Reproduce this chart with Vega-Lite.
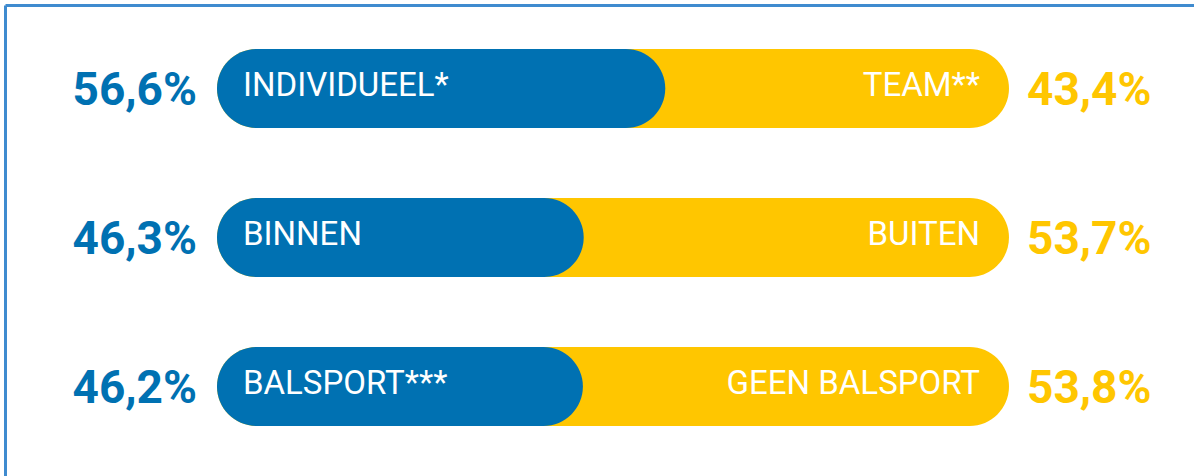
{
  "$schema": "https://vega.github.io/schema/vega-lite/v6.json",
  "width": 1194,
  "height": 476,
  "padding": 0,
  "autosize": {"type": "none"},
  "background": "white",
  "config": {"view": {"stroke": null}},
  "data": {"values": [
    {"row": 1, "left": "INDIVIDUEEL*", "right": "TEAM**", "lp": 56.6, "rp": 43.4, "lpl": "56,6%", "rpl": "43,4%", "total": 100},
    {"row": 2, "left": "BINNEN", "right": "BUITEN", "lp": 46.3, "rp": 53.7, "lpl": "46,3%", "rpl": "53,7%", "total": 100},
    {"row": 3, "left": "BALSPORT***", "right": "GEEN BALSPORT", "lp": 46.2, "rp": 53.8, "lpl": "46,2%", "rpl": "53,8%", "total": 100}
  ]},
  "layer": [
    {
      "data": {"values": [{}]},
      "mark": {"type": "rule", "color": "#3F8BCF", "strokeWidth": 3},
      "encoding": {
        "x": {"datum": -26.706, "type": "quantitative", "axis": null, "scale": {"domain": [-27.4, 123.36], "nice": false, "zero": false, "padding": 0}},
        "y": {"datum": 0.443, "type": "quantitative", "axis": null, "scale": {"domain": [0.406, 3.601], "nice": false, "zero": false, "reverse": true, "padding": 0}},
        "y2": {"datum": 3.601}
      }
    },
    {
      "data": {"values": [{}]},
      "mark": {"type": "rule", "color": "#3F8BCF", "strokeWidth": 3},
      "encoding": {
        "x": {"datum": -26.706, "type": "quantitative", "axis": null},
        "x2": {"datum": 123.36},
        "y": {"datum": 0.443, "type": "quantitative", "axis": null}
      }
    },
    {
      "mark": {"type": "bar", "color": "#FFC600", "cornerRadius": 39.5, "size": 79, "orient": "horizontal"},
      "encoding": {
        "x": {"field": "total", "type": "quantitative", "axis": null},
        "x2": {"datum": 0},
        "y": {"field": "row", "type": "quantitative", "axis": null}
      }
    },
    {
      "mark": {"type": "bar", "color": "#0071B2", "cornerRadius": 39.5, "size": 79, "orient": "horizontal"},
      "encoding": {
        "x": {"field": "lp", "type": "quantitative", "axis": null},
        "x2": {"datum": 0},
        "y": {"field": "row", "type": "quantitative", "axis": null}
      }
    },
    {
      "mark": {"type": "text", "font": "Roboto", "fontSize": 33, "color": "white", "align": "left", "baseline": "alphabetic", "dx": 26, "dy": 7.5},
      "encoding": {
        "x": {"datum": 0, "type": "quantitative", "axis": null},
        "y": {"field": "row", "type": "quantitative", "axis": null},
        "text": {"field": "left"}
      }
    },
    {
      "mark": {"type": "text", "font": "Roboto", "fontSize": 33, "color": "white", "align": "right", "baseline": "alphabetic", "dx": -29, "dy": 7.5},
      "encoding": {
        "x": {"datum": 100, "type": "quantitative", "axis": null},
        "y": {"field": "row", "type": "quantitative", "axis": null},
        "text": {"field": "right"}
      }
    },
    {
      "mark": {"type": "text", "font": "Roboto", "fontWeight": "bold", "fontSize": 46, "color": "#0071B2", "align": "right", "baseline": "alphabetic", "dx": -20, "dy": 17},
      "encoding": {
        "x": {"datum": 0, "type": "quantitative", "axis": null},
        "y": {"field": "row", "type": "quantitative", "axis": null},
        "text": {"field": "lpl"}
      }
    },
    {
      "mark": {"type": "text", "font": "Roboto", "fontWeight": "bold", "fontSize": 46, "color": "#FFC600", "align": "left", "baseline": "alphabetic", "dx": 18, "dy": 17},
      "encoding": {
        "x": {"datum": 100, "type": "quantitative", "axis": null},
        "y": {"field": "row", "type": "quantitative", "axis": null},
        "text": {"field": "rpl"}
      }
    }
  ]
}
